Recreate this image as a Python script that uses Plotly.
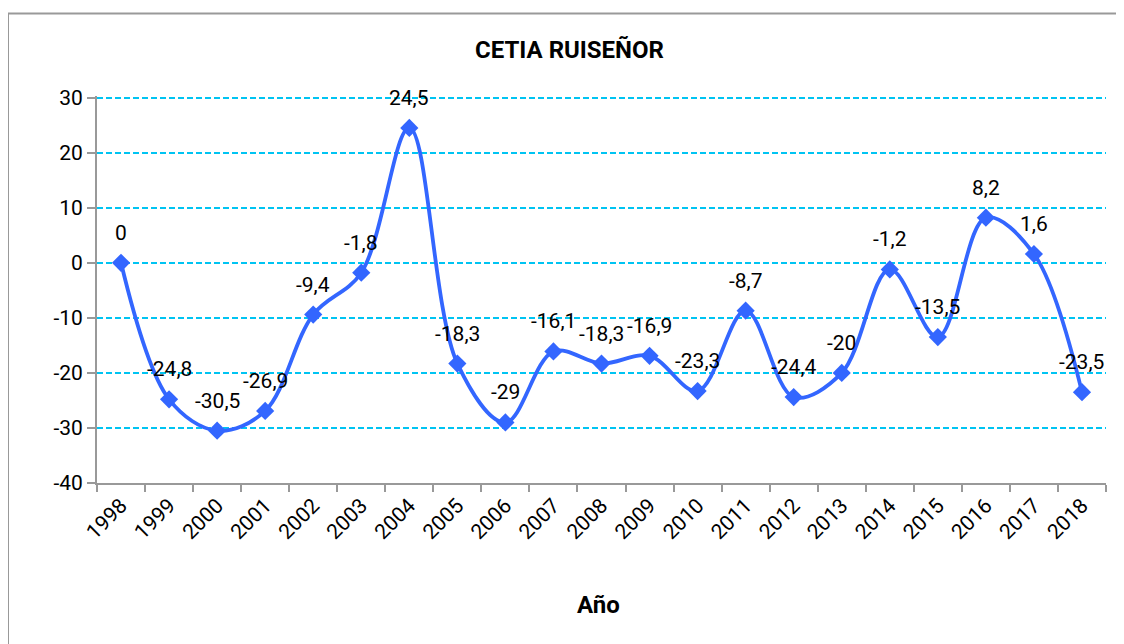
import plotly.graph_objects as go

years = [str(y) for y in range(1998, 2019)]
values = [0, -24.8, -30.5, -26.9, -9.4, -1.8, 24.5, -18.3, -29, -16.1, -18.3,
          -16.9, -23.3, -8.7, -24.4, -20, -1.2, -13.5, 8.2, 1.6, -23.5]
y_ticks = [-40, -30, -20, -10, 0, 10, 20, 30]
title_text = "CETIA RUISEÑOR"
x_title = "Año"


def fmt(v):
    if float(v).is_integer():
        return str(int(v))
    return str(v).replace(".", ",")


labels = [fmt(v) for v in values]

FONT = "Roboto"
LINE = "#3366FF"
GRID = "#00C4F2"
AXIS = "#999999"

# page body has an 8px margin; figure placed at (8, 8)
OFF = 8
FW, FH = 1116, 636
L, R, T, B = 89, 18, 88.4, 161
W = FW - L - R
H = FH - T - B


def px(xabs):
    return (xabs - OFF - L) / W


def py(yabs):
    return 1 - (yabs - OFF - T) / H


fig = go.Figure()
fig.add_trace(go.Scatter(
    x=years, y=values, mode="lines+markers",
    line=dict(color=LINE, width=3.8, shape="spline", smoothing=1.0),
    marker=dict(symbol="diamond", size=14, color=LINE),
    showlegend=False, hoverinfo="x+y",
))

for i, (v, t) in enumerate(zip(values, labels)):
    fig.add_annotation(x=i, y=v, xref="x", yref="y", text=t, showarrow=False, yshift=30,
                       xanchor="center", yanchor="middle",
                       font=dict(family=FONT, size=21, color="#000000"))

fig.add_annotation(xref="paper", yref="paper", x=px(598), y=py(605), text="<b>" + x_title + "</b>",
                   showarrow=False, xanchor="center", yanchor="middle",
                   font=dict(family=FONT, size=24, color="#000000"))

fig.add_annotation(xref="paper", yref="paper", x=px(569), y=py(50), text="<b>" + title_text + "</b>",
                   showarrow=False, xanchor="center", yanchor="middle",
                   font=dict(family=FONT, size=24, color="#000000"))

fig.add_shape(type="rect", xref="paper", yref="paper",
              x0=px(8), x1=px(1140), y0=py(700), y1=py(14),
              line=dict(color=AXIS, width=2), fillcolor="rgba(0,0,0,0)", layer="below")

fig.update_layout(
    width=FW, height=FH,
    margin=dict(l=L, r=R, t=T, b=B, pad=0),
    paper_bgcolor="white", plot_bgcolor="white",
    font=dict(family=FONT, color="#000000"),
)

fig.update_xaxes(
    type="category", tickangle=-45, tickson="boundaries",
    ticks="outside", ticklen=7, tickcolor=AXIS, tickwidth=2,
    showline=True, linecolor=AXIS, linewidth=2, showgrid=False,
    tickfont=dict(family=FONT, size=21, color="#000000"),
    range=[-0.5, len(years) - 0.5],
)
fig.update_yaxes(
    range=[-40, 30.3], tickvals=y_ticks, ticktext=[str(t) for t in y_ticks],
    ticks="outside", ticklen=8, tickcolor=AXIS, tickwidth=2,
    showline=True, linecolor=AXIS, linewidth=2,
    showgrid=True, gridcolor=GRID, gridwidth=1.5, griddash="6px,3px",
    zeroline=False,
    tickfont=dict(family=FONT, size=21, color="#000000"),
)

fig.write_html("out.html")
